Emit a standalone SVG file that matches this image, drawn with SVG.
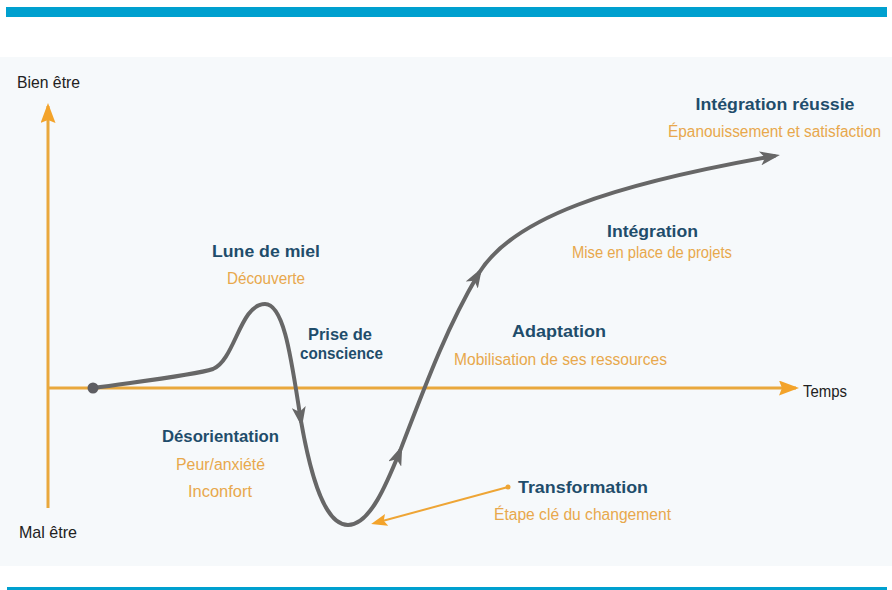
<svg xmlns="http://www.w3.org/2000/svg" width="892" height="590" viewBox="0 0 892 590">
  <style>
    .bar { fill: #00a0cf; }
    .axis { stroke: #e9a83c; stroke-width: 3; fill: none; }
    .curve { stroke: #676767; stroke-width: 4; fill: none; stroke-linecap: round; }
    .thin { stroke: #eea535; stroke-width: 2; fill: none; }
    .h { font-family: "Liberation Sans", Arial, sans-serif; font-weight: bold; font-size: 17px; fill: #1f4d6b; text-anchor: middle; }
    .s { font-family: "Liberation Sans", Arial, sans-serif; font-size: 16px; fill: #e8a84c; text-anchor: middle; }
    .k { font-family: "Liberation Sans", Arial, sans-serif; font-size: 17px; fill: #222222; }
  </style>
  <defs>
    <marker id="grey" markerUnits="userSpaceOnUse" viewBox="0 0 20 14" markerWidth="20" markerHeight="14" refX="14" refY="7" orient="auto">
      <path d="M0,0 L20,7 L0,14 L5,7 z" fill="#676767"/>
    </marker>
    <marker id="orange" markerUnits="userSpaceOnUse" viewBox="0 0 20 15" markerWidth="20" markerHeight="15" refX="17" refY="7.5" orient="auto">
      <path d="M0,0 L20,7.5 L0,15 L3,7.5 z" fill="#f3a32a"/>
    </marker>
    <marker id="orangeS" markerUnits="userSpaceOnUse" viewBox="0 0 16 12" markerWidth="16" markerHeight="12" refX="12" refY="6" orient="auto">
      <path d="M0,0 L16,6 L0,12 L3,6 z" fill="#f3a32a"/>
    </marker>
  </defs>

  <rect x="0" y="0" width="892" height="590" fill="#ffffff"/>
  <rect x="0" y="57" width="892" height="509" fill="#f6f9fb"/>
  <rect class="bar" x="6" y="7" width="881" height="10"/>
  <rect class="bar" x="7" y="587" width="880" height="3"/>

  <g id="axes">
    <line class="axis" x1="48" y1="508" x2="48" y2="106" marker-end="url(#orange)"/>
    <line class="axis" x1="47" y1="388" x2="796" y2="388" marker-end="url(#orange)"/>
    <text class="k" x="17" y="88" textLength="63" lengthAdjust="spacingAndGlyphs">Bien être</text>
    <text class="k" x="19" y="538" textLength="58" lengthAdjust="spacingAndGlyphs">Mal être</text>
    <text class="k" x="803" y="397" textLength="44" lengthAdjust="spacingAndGlyphs">Temps</text>
  </g>

  <g id="connectors">
    <path class="curve" d="M93 388 C150 380 195 375 213 369 C235 360 240 304 265 304 C285 304 292 365 301 421" marker-end="url(#grey)"/>
    <path class="curve" d="M301 421 C311 478 325 525 348 525 C370 525 387 483 400 451" marker-end="url(#grey)"/>
    <path class="curve" d="M400 451 C428 378 448 325 479 273" marker-end="url(#grey)"/>
    <path class="curve" d="M479 273 C513 218 610 185 774 156" marker-end="url(#grey)"/>
    <circle cx="93" cy="388" r="5.5" fill="#5e5e62"/>
    <line class="thin" x1="508" y1="487" x2="375" y2="523" marker-end="url(#orangeS)"/>
    <circle cx="508" cy="487" r="2.5" fill="#eea535"/>
  </g>

  <g id="lune">
    <text class="h" x="266" y="257" textLength="108" lengthAdjust="spacingAndGlyphs">Lune de miel</text>
    <text class="s" x="266" y="284" textLength="78" lengthAdjust="spacingAndGlyphs">Découverte</text>
  </g>
  <g id="prise">
    <text class="h" x="340" y="340" textLength="64" lengthAdjust="spacingAndGlyphs">Prise de</text>
    <text class="h" x="341.5" y="359" textLength="83" lengthAdjust="spacingAndGlyphs">conscience</text>
  </g>
  <g id="desorientation">
    <text class="h" x="220.5" y="442" textLength="117" lengthAdjust="spacingAndGlyphs">Désorientation</text>
    <text class="s" x="220.5" y="470" textLength="89" lengthAdjust="spacingAndGlyphs">Peur/anxiété</text>
    <text class="s" x="220" y="497" textLength="64" lengthAdjust="spacingAndGlyphs">Inconfort</text>
  </g>
  <g id="transformation">
    <text class="h" x="583" y="493" textLength="130" lengthAdjust="spacingAndGlyphs">Transformation</text>
    <text class="s" x="582.5" y="520" textLength="177" lengthAdjust="spacingAndGlyphs">Étape clé du changement</text>
  </g>
  <g id="adaptation">
    <text class="h" x="559" y="337" textLength="94" lengthAdjust="spacingAndGlyphs">Adaptation</text>
    <text class="s" x="560.5" y="365" textLength="213" lengthAdjust="spacingAndGlyphs">Mobilisation de ses ressources</text>
  </g>
  <g id="integration">
    <text class="h" x="652.5" y="237" textLength="91" lengthAdjust="spacingAndGlyphs">Intégration</text>
    <text class="s" x="652" y="258" textLength="160" lengthAdjust="spacingAndGlyphs">Mise en place de projets</text>
  </g>
  <g id="integration-reussie">
    <text class="h" x="775" y="110" textLength="159" lengthAdjust="spacingAndGlyphs">Intégration réussie</text>
    <text class="s" x="774.5" y="137" textLength="213" lengthAdjust="spacingAndGlyphs">Épanouissement et satisfaction</text>
  </g>
</svg>
